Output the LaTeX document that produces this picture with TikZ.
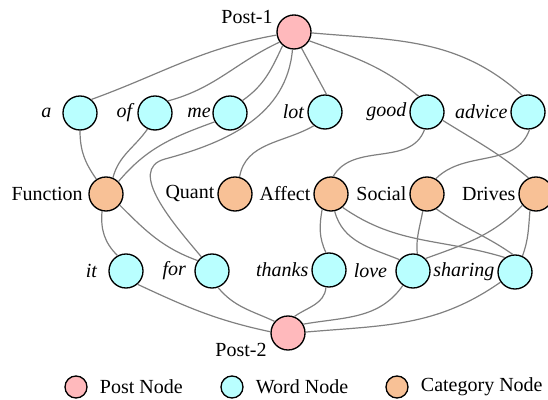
\documentclass[tikz,border=0pt]{standalone}
\usepackage{fontspec}
\setmainfont{Liberation Serif}
\usetikzlibrary{positioning}
\definecolor{postpink}{RGB}{255,185,188}
\definecolor{wordcyan}{RGB}{185,255,255}
\definecolor{catorange}{RGB}{248,193,150}
\definecolor{edgegray}{RGB}{128,128,128}

\begin{document}
\begin{tikzpicture}[x=0.75pt,y=0.75pt,font=\fontsize{15}{18}\selectfont,
  every node/.style={inner sep=1pt},
  vtx/.style={circle,draw=black,line width=1pt,minimum size=25.5pt,inner sep=0pt},
  post/.style={vtx,fill=postpink},
  word/.style={vtx,fill=wordcyan},
  cat/.style={vtx,fill=catorange},
  key/.style={circle,draw=black,line width=1pt,minimum size=16.5pt,inner sep=0pt},
  lbl/.style={label distance=1pt},
  link/.style={draw=edgegray,line width=0.9pt},
  every edge/.style={link}]
  \useasboundingbox (0,0) rectangle (548,399);
  % posts
  \node[post] (p1) at (294,367) {};
  \node (tp1) at (247,382) {Post-1};
  \node[post] (p2) at (288,66) {};
  \node (tp2) at (241,49) {Post-2};
  % upper words
  \node[word,label={[lbl,xshift=-6pt]left:\textit{a}}] (wa) at (80,286) {};
  \node[word,label={[lbl]left:\textit{of}}] (wof) at (155,286) {};
  \node[word,label={[lbl,xshift=1pt]left:\textit{me}}] (wme) at (230,286) {};
  \node[word,label={[lbl]left:\textit{lot}}] (wlot) at (325,287) {};
  \node[word,label={[lbl]left:\textit{good}}] (wgood) at (427,287) {};
  \node[word,label={[lbl]left:\textit{advice}}] (wadvice) at (528,287) {};
  % categories
  \node[cat,label={[lbl,xshift=-2pt]left:Function}] (cfun) at (106,205) {};
  \node[cat,label={[lbl]left:Quant}] (cquant) at (235,205) {};
  \node[cat,label={[lbl]left:Affect}] (caffect) at (331,205) {};
  \node[cat,label={[lbl]left:Social}] (csocial) at (427,205) {};
  \node[cat,label={[lbl]left:Drives}] (cdrives) at (536,205) {};
  % lower words
  \node[word,label={[lbl,xshift=-6pt]left:\textit{it}}] (wit) at (126,128) {};
  \node[word,label={[lbl,xshift=-4pt]left:\textit{for}}] (wfor) at (212,128) {};
  \node[word,label={[lbl]left:\textit{thanks}}] (wthanks) at (329,129) {};
  \node[word,label={[lbl,xshift=-4pt]left:\textit{love}}] (wlove) at (413,128) {};
  \node[word,label={[lbl]left:\textit{sharing}}] (wsharing) at (515,127) {};
  \coordinate (kink) at (165,240);
%
  \path (p1.190) edge[out=190,in=20] (wa.50);
  \path (p1.215) edge[out=205,in=15] (wof.43);
  \path (p1.230) edge[out=245,in=35] (wme.45);
  \path (p1.-65) edge (wlot.85);
  \path (p1.-30) edge[out=-20,in=140] (wgood.118);
  \path (p1.-3) edge[out=-5,in=138] (wadvice.109);
  \draw[link] (p1.265) to[out=265,in=15] (kink) to[out=195,in=130] (wfor.127);
%
  \path (wa.270) edge[out=270,in=125] (cfun.123);
  \path (wof.245) edge[out=235,in=75] (cfun.67);
  \path (wme.210) edge[out=200,in=50] (cfun.45);
  \path (wlot.231) edge[out=210,in=80] (cquant.75);
  \path (wgood.262) edge[out=250,in=60] (caffect.83);
  \path (wgood.-28) edge[out=-32,in=140] (cdrives.115);
  \path (wadvice.-85) edge[out=250,in=45] (csocial.60);
%
  \path (cfun.257) edge[out=265,in=135] (wit.119);
  \path (cfun.-39) edge[out=-45,in=160] (wfor.144);
  \path (caffect.240) edge[out=260,in=115] (wthanks.100);
  \path (caffect.-78) edge[out=-75,in=158] (wlove.140);
  \path (caffect.-49) edge[out=-35,in=163] (wsharing.125);
  \path (csocial.256) edge[out=260,in=95] (wlove.76);
  \path (csocial.-58) edge[out=-35,in=145] (wsharing.97);
  \path (cdrives.220) edge[out=225,in=20] (wlove.45);
  \path (cdrives.250) edge[out=265,in=70] (wsharing.65);
%
  \path (wit.-49) edge[out=-25,in=168] (p2.176);
  \path (wfor.-70) edge[out=-50,in=155] (p2.139);
  \path (wthanks.260) edge[out=265,in=35] (p2.69);
  \path (wlove.235) edge[out=235,in=10] (p2.30);
  \path (wsharing.215) edge[out=215,in=5] (p2.3);
  % legend
  \node[key,fill=postpink] (kpost) at (76,12) {};
  \node[right=8pt of kpost] (tpost) {Post Node};
  \node[key,fill=wordcyan] (kword) at (232,12) {};
  \node[right=8pt of kword] (tword) {Word Node};
  \node[key,fill=catorange] (kcat) at (397,12) {};
  \node[right=8pt of kcat] (tcat) {Category Node};
\end{tikzpicture}
\end{document}
